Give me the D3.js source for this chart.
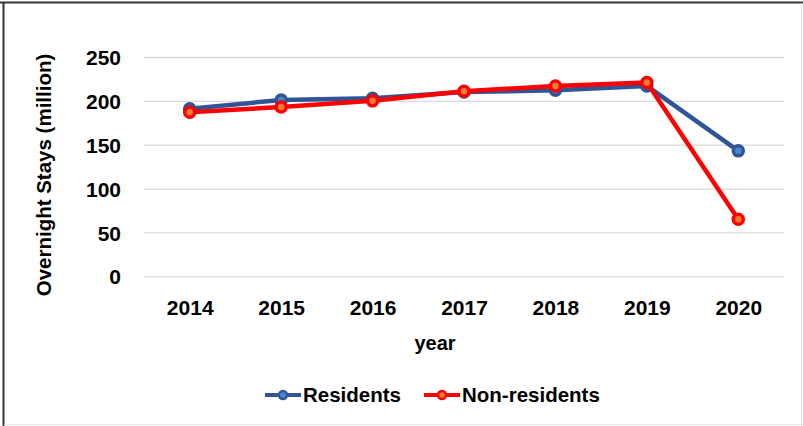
<!DOCTYPE html>
<html><head><meta charset="utf-8">
<script src="https://cdn.jsdelivr.net/npm/d3@7"></script>
<style>body{margin:0;background:#fff}svg{display:block}text{font-family:"Liberation Sans",Arial,sans-serif;font-weight:bold;fill:#000}</style>
</head><body>
<svg id="c" width="803" height="426"></svg>
<script>
const years = ["2014","2015","2016","2017","2018","2019","2020"];
const residents = [191, 201, 203, 210, 212, 217, 143];
const nonResidents = [187, 193, 200, 211, 217, 221, 65];
const yTicks = [0, 50, 100, 150, 200, 250];
const seriesNames = ["Residents", "Non-residents"];
const lineColors = ["#2f5597", "#ff0000"];
const fillColors = ["#4a86c8", "#ed7d31"];

const svg = d3.select("#c");
// frame
svg.append("rect").attr("x",0).attr("y",0).attr("width",803).attr("height",426).attr("fill","#fff");
svg.append("line").attr("x1",0).attr("x2",803).attr("y1",2.5).attr("y2",2.5).attr("stroke","#333").attr("stroke-width",2);
svg.append("line").attr("x1",3.5).attr("x2",3.5).attr("y1",2).attr("y2",426).attr("stroke","#333").attr("stroke-width",2);
svg.append("line").attr("x1",801.5).attr("x2",801.5).attr("y1",3).attr("y2",426).attr("stroke","#ddd").attr("stroke-width",1);
svg.append("line").attr("x1",4).attr("x2",803).attr("y1",424.5).attr("y2",424.5).attr("stroke","#e6e6e6").attr("stroke-width",1);

const x = d3.scalePoint().domain(years).range([144, 784]).padding(0.5);
const y = d3.scaleLinear().domain([0, 250]).range([276.3, 57]);

// gridlines
const grid = svg.append("g").call(d3.axisLeft(y).tickValues(yTicks).tickSize(-(784-144)).tickFormat(""))
  .attr("transform","translate(144,0)");
grid.select(".domain").remove();
grid.selectAll("line").attr("stroke","#d9d9d9").attr("stroke-width",1.3);

// y labels
const ya = svg.append("g").attr("transform","translate(121,0)")
  .call(d3.axisLeft(y).tickValues(yTicks).tickSize(0).tickPadding(0));
ya.select(".domain").remove();
ya.selectAll("text").attr("font-size",21).attr("font-family","Liberation Sans, Arial, sans-serif").attr("font-weight","bold").attr("fill","#000").attr("dy","0.36em");

// x labels
const xa = svg.append("g").attr("transform","translate(0,300)")
  .call(d3.axisBottom(x).tickSize(0).tickPadding(0));
xa.select(".domain").remove();
xa.selectAll("text").attr("font-size",21).attr("font-family","Liberation Sans, Arial, sans-serif").attr("font-weight","bold").attr("fill","#000").attr("dy","0.71em");

// axis titles
svg.append("text").attr("transform","translate(51,175) rotate(-90)").attr("text-anchor","middle")
  .attr("font-size",20.5).text("Overnight Stays (million)");
svg.append("text").attr("x",435).attr("y",350).attr("text-anchor","middle").attr("font-size",20).text("year");

// series
const data = [residents, nonResidents];
const line = d3.line().x((d,i)=>x(years[i])).y(d=>y(d));
data.forEach((vals, s) => {
  svg.append("path").datum(vals).attr("d", line).attr("fill","none")
    .attr("stroke", lineColors[s]).attr("stroke-width",4.5).attr("stroke-linejoin","round");
  svg.append("g").selectAll("circle").data(vals).join("circle")
    .attr("cx",(d,i)=>x(years[i])).attr("cy",d=>y(d)).attr("r",5)
    .attr("fill",fillColors[s]).attr("stroke",lineColors[s]).attr("stroke-width",3.5);
});

// legend
const legendX = [265, 424];
seriesNames.forEach((n, s) => {
  const g = svg.append("g").attr("transform",`translate(${legendX[s]},395)`);
  g.append("line").attr("x1",0).attr("x2",36).attr("y1",0).attr("y2",0).attr("stroke",lineColors[s]).attr("stroke-width",4);
  g.append("circle").attr("cx",18).attr("cy",0).attr("r",4).attr("fill",fillColors[s]).attr("stroke",lineColors[s]).attr("stroke-width",2.5);
  g.append("text").attr("x",38).attr("y",0).attr("dy","0.36em").attr("font-size",20.5).text(n);
});
</script>
</body></html>
